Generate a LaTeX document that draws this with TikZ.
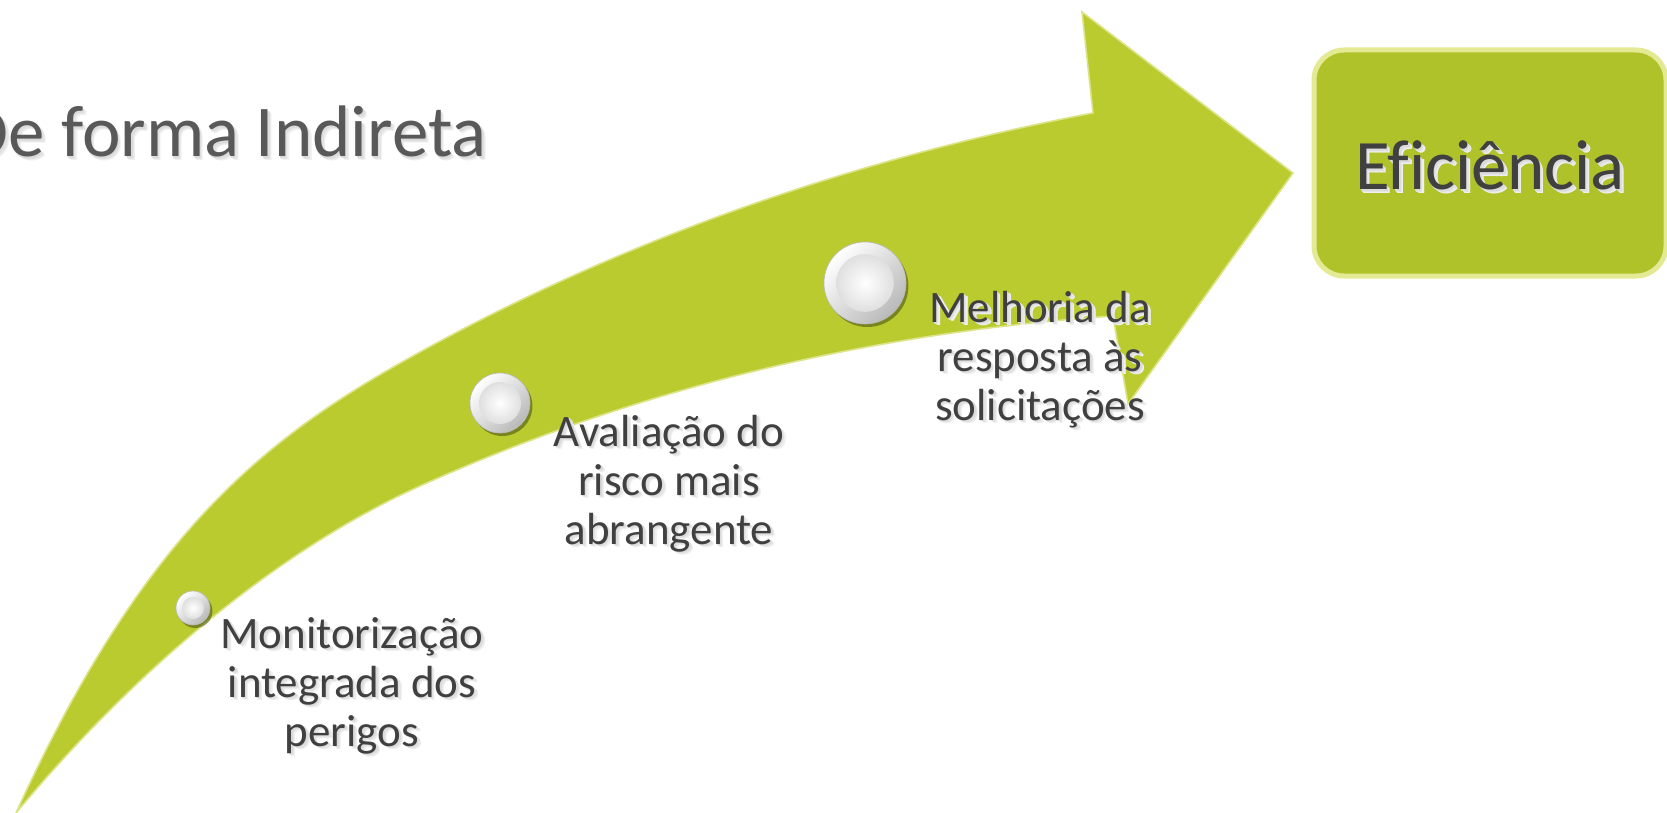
\documentclass[tikz,border=0pt]{standalone}
\usepackage{fontspec}
\setmainfont{Carlito}[Ligatures=NoCommon]
\usetikzlibrary{shadows}
\definecolor{arrowgreen}{HTML}{B9CB2F}
\definecolor{arrowedge}{HTML}{DCE487}
\definecolor{boxgreen}{HTML}{AFC22A}
\definecolor{boxedge}{HTML}{E4E994}
\definecolor{titlegray}{HTML}{595959}
\definecolor{textgray}{HTML}{404040}
\newcommand\shd[1]{\leavevmode
  \rlap{\kern1.9pt\raisebox{-1.9pt}{\textcolor{black!6}{#1}}}%
  \rlap{\kern1.3pt\raisebox{-1.3pt}{\textcolor{black!10}{#1}}}%
  \rlap{\kern0.7pt\raisebox{-0.7pt}{\textcolor{black!14}{#1}}}#1}
\begin{document}
\begin{tikzpicture}[x=0.5pt,y=-0.5pt,
  lbl/.style={font=\fontsize{22.5}{24.5}\selectfont, text=textgray, align=center, inner sep=0, anchor=base},
  ttl/.style={font=\fontsize{36.5}{40}\selectfont, text=titlegray, inner sep=0},
  efftext/.style={font=\fontsize{35.5}{40}\selectfont, text=textgray, inner sep=0, anchor=base},
  effbox/.style={draw=boxedge, line width=2.5pt, fill=boxgreen, rounded corners=15pt, minimum width=176pt, minimum height=113pt, inner sep=0},
  ball/.style={circle, inner sep=0, draw=gray!55, line width=0.3pt, top color=white, bottom color=gray!55, shading angle=45,
    drop shadow={shadow xshift=1.2pt, shadow yshift=-1.5pt, opacity=0.35, fill=black}},
  arrowshape/.style={fill=arrowgreen, draw=arrowedge, line width=0.8pt, line join=miter}
]
\useasboundingbox (0,0) rectangle (1667,813);
\clip (0,0) rectangle (1667,813);
\fill[white] (0,0) rectangle (1667,813);

% curved arrow
\path[arrowshape]
  (16,813) .. controls (146,527) and (270,434.5) .. (420,352)
  .. controls (640,231) and (873,154.8) .. (1093,113)
  -- (1082,12) -- (1293,173) -- (1128,404) -- (1113,316)
  .. controls (883,332) and (650,382.5) .. (420,486)
  .. controls (290,544.5) and (146,657) .. (16,813)
  -- cycle;

% title
\node[ttl, anchor=base east] (title) at (487,157) {\shd{De forma Indireta}};

% efficiency box
\node[effbox] (eff) at (1490,163) {};
\node[efftext] (efft) at (1490,190) {\shd{Eficiência}};

% balls
\node[ball, minimum size=17pt] (b1) at (193,608) {};
\node[ball, minimum size=30pt] (b2) at (500,403) {};
\node[ball, minimum size=41pt] (b3) at (865,283) {};
\shade[inner color=white, outer color=gray!25] (b1.center) circle[radius=5.5pt];
\shade[inner color=white, outer color=gray!25] (b2.center) circle[radius=10.5pt];
\shade[inner color=white, outer color=gray!25] (b3.center) circle[radius=14.4pt];

% labels (base anchor = last line)
\node[lbl] (t1) at (352,746) {\shd{Monitorização}\\\shd{integrada dos}\\\shd{perigos}};
\node[lbl] (t2) at (669,544) {\shd{Avaliação do}\\\shd{risco mais}\\\shd{abrangente}};
\node[lbl] (t3) at (1040,420) {\shd{Melhoria da}\\\shd{resposta às}\\\shd{solicitações}};
\end{tikzpicture}
\end{document}
